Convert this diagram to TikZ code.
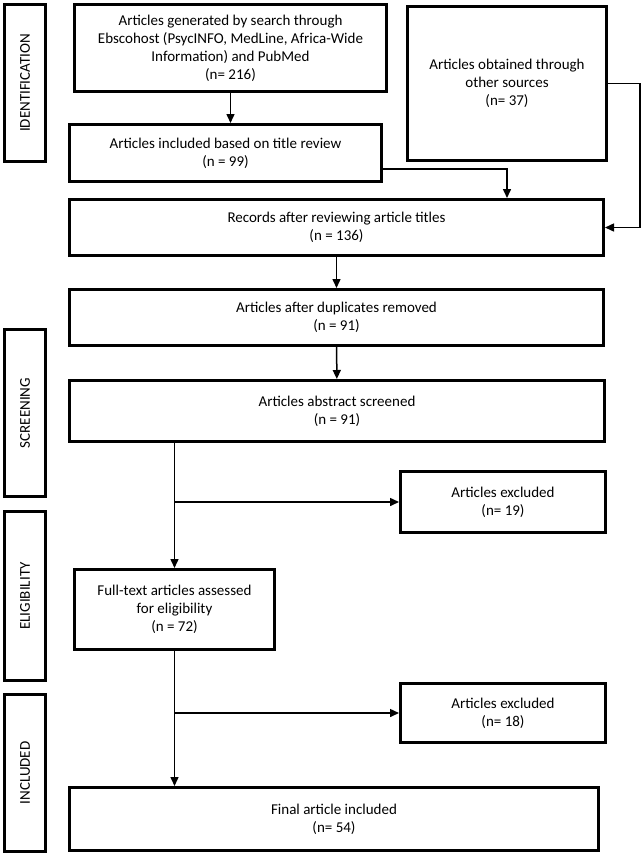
\documentclass[tikz,border=0pt]{standalone}
\usepackage{fontspec}
\setmainfont{Carlito}
\usetikzlibrary{positioning, arrows.meta}

\begin{document}
\begin{tikzpicture}[
	x=1pt, y=-1pt,
	box/.style={
		rectangle,
		draw=black,
		line width=3pt,
		align=center,
		inner sep=2pt,
		font=\fontsize{15}{18}\selectfont
	},
	phase/.style={
		box,
		rotate=90,
		minimum height=41pt
	},
	arrow/.style={
		line width=1.5pt,
		-{Triangle[length=9pt,width=8pt]}
	}
	]
	
	% Canvas
	\useasboundingbox (0,0) rectangle (641,855);
	
	% Phase labels (left column)
	\node[phase, minimum width=157pt] (ident) at (25,83) {IDENTIFICATION};
	\node[phase, minimum width=167pt] (screen) at (25,413) {SCREENING};
	\node[phase, minimum width=169pt] (elig) at (25,596) {ELIGIBILITY};
	\node[phase, minimum width=157pt] (incl) at (25,773) {INCLUDED};
	
	% Identification
	\node[box, minimum width=312pt, minimum height=87pt] (search) at (230.5,48) {Articles generated by search through\\Ebscohost (PsycINFO, MedLine, Africa-Wide\\Information) and PubMed\\(n= 216)};
	\node[box, minimum width=312pt, minimum height=57pt] (title) at (225.5,153) {Articles included based on title review\\(n = 99)};
	\node[box, minimum width=199pt, minimum height=154pt] (other) at (507,83.5) {Articles obtained through\\other sources\\(n= 37)};
	\node[box, minimum width=534pt, minimum height=56pt] (records) at (336.5,227.5) {Records after reviewing article titles\\(n = 136)};
	\node[box, minimum width=534pt, minimum height=56pt] (dupl) at (336.5,317.5) {Articles after duplicates removed\\(n = 91)};
	
	% Screening
	\node[box, minimum width=535pt, minimum height=61pt] (abstr) at (337,411) {Articles abstract screened\\(n = 91)};
	\node[box, minimum width=205pt, minimum height=61pt] (excl1) at (503,502) {Articles excluded\\(n= 19)};
	
	% Eligibility
	\node[box, minimum width=200pt, minimum height=80pt] (full) at (174.5,609.5) {Full-text articles assessed\\for eligibility\\(n = 72)};
	\node[box, minimum width=205pt, minimum height=59pt] (excl2) at (503,713) {Articles excluded\\(n= 18)};
	
	% Included
	\node[box, minimum width=529pt, minimum height=63pt] (final) at (334,819) {Final article included\\(n= 54)};
	
	% Connectors
	\draw[arrow] (search.south) -- (search.south |- title.north);
	\draw[arrow] ([yshift=-16pt]title.east) -| (other |- records.north);
	\draw[arrow] (other.east) -- ++(32,0) |- (records.east);
	\draw[arrow] (records) -- (dupl);
	\draw[arrow] (dupl) -- (abstr);
	\draw[arrow] (abstr.south -| full.north) -- (full.north);
	\draw[arrow] (full.north |- excl1.west) -- (excl1.west);
	\draw[arrow] (full.south) -- (full.south |- final.north);
	\draw[arrow] (full.south |- excl2.west) -- (excl2.west);
	
\end{tikzpicture}
\end{document}
